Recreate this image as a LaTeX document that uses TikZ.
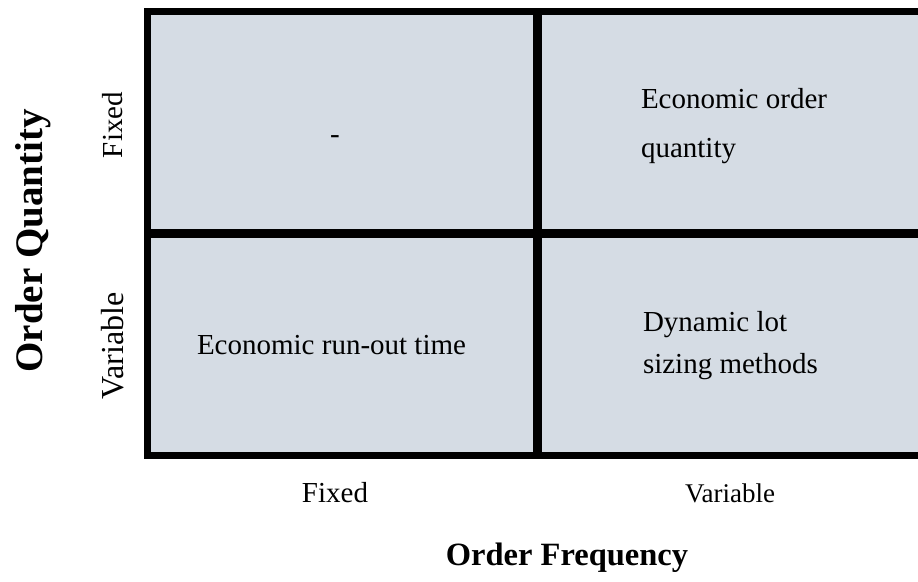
\documentclass[tikz,border=0pt]{standalone}
\usepackage{fontspec}
\setmainfont{Liberation Serif}
\definecolor{cellfill}{HTML}{D5DCE4}
\tikzset{
  txt/.style={inner sep=0pt, outer sep=0pt, font=\fontsize{29}{34}\selectfont},
  axis/.style={inner sep=0pt, outer sep=0pt, font=\fontsize{27}{32}\selectfont},
  title/.style={inner sep=0pt, outer sep=0pt, font=\fontsize{32.5}{38}\selectfont\bfseries},
  frame/.style={line width=6.7pt},
  divider/.style={line width=8.8pt}
}
\begin{document}
\begin{tikzpicture}[x=1pt,y=-1pt]
  \useasboundingbox (0,0) rectangle (918,581);
  \clip (0,0) rectangle (918,581);
  % matrix background and frame
  \fill[cellfill] (147.4,11.3) rectangle (930,455.3);
  \draw[frame] (930,11.3) -- (147.4,11.3) -- (147.4,455.3) -- (930,455.3);
  \coordinate (vtop) at (537.5,11.3);
  \coordinate (vbot) at (537.5,455.3);
  \coordinate (hleft) at (147.4,233.3);
  \coordinate (hright) at (930,233.3);
  \draw[divider] (vtop) -- (vbot);
  \draw[divider] (hleft) -- (hright);
  % cell contents
  \node[txt, anchor=base] (dash) at (335,143) {-};
  \node[txt, anchor=base west] (eoq1) at (641,108) {Economic order};
  \node[txt, anchor=base west] (eoq2) at (641,157) {quantity};
  \node[txt, anchor=base west] (erot) at (197,354) {Economic run-out time};
  \node[txt, anchor=base west] (dyn1) at (643,331) {Dynamic lot};
  \node[txt, anchor=base west] (dyn2) at (643,373) {sizing methods};
  % axis labels
  \node[txt, anchor=base, rotate=90] (qfix) at (122,125) {Fixed};
  \node[txt, anchor=base, rotate=90, font=\fontsize{32}{38}\selectfont] (qvar) at (123,346) {Variable};
  \node[txt, anchor=base] (ffix) at (335,502) {Fixed};
  \node[axis, anchor=base] (fvar) at (730,502) {Variable};
  % axis titles
  \node[title, anchor=base, rotate=90, font=\fontsize{39}{46}\selectfont\bfseries] (qtitle) at (42,241) {Order Quantity};
  \node[title, anchor=base] (ftitle) at (567,565) {Order Frequency};
\end{tikzpicture}
\end{document}
